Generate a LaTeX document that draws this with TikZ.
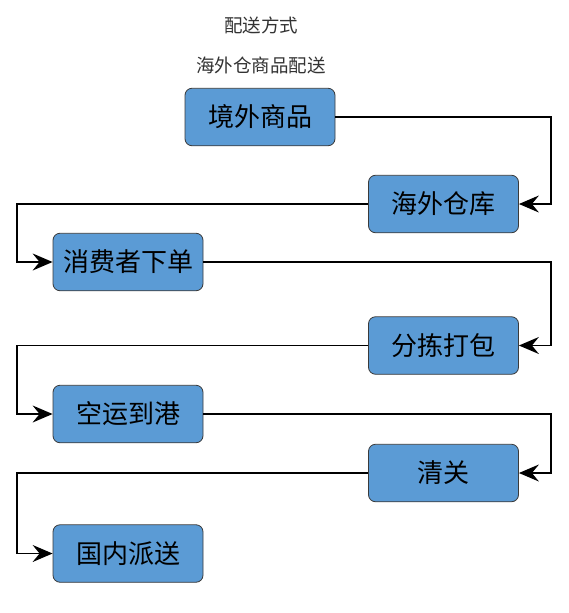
\documentclass[tikz,border=0pt]{standalone}
\usepackage{fontspec}
\setmainfont{Noto Sans CJK SC}
\usepackage{tikz}
\usetikzlibrary{arrows.meta}

\definecolor{boxblue}{HTML}{5B9BD5}
\definecolor{boxline}{HTML}{3A3A3A}

\begin{document}
\begin{tikzpicture}[
		x=1pt, y=-1pt,
		flowbox/.style={draw=boxline, line width=0.8pt, fill=boxblue, rounded corners=7pt,
			minimum width=150pt, minimum height=57.5pt, inner sep=0pt,
			font=\fontsize{26}{30}\selectfont},
		caption/.style={text=black!80, font=\fontsize{18.5}{22}\selectfont},
		flow/.style={line width=1.5pt, -{Stealth[length=20pt, width=17pt, inset=7pt]}}
	]
	\useasboundingbox (0, 0) rectangle (568, 613);
	
	\node[caption] (title) at (261, 25) {配送方式};
	\node[caption] (subtitle) at (261, 65) {海外仓商品配送};
	
	\node[flowbox] (goods) at (260, 117) {境外商品};
	\node[flowbox] (warehouse) at (443.5, 204) {海外仓库};
	\node[flowbox] (order) at (128, 262) {消费者下单};
	\node[flowbox] (packing) at (443.5, 345.5) {分拣打包};
	\node[flowbox] (airport) at (128, 414) {空运到港};
	\node[flowbox] (customs) at (443.5, 473) {清关};
	\node[flowbox] (delivery) at (128, 553.5) {国内派送};
	
	\coordinate (right) at (551, 0);
	\coordinate (left) at (17, 0);
	
	\draw[flow] (goods.east) -| (right |- warehouse.east) -- (warehouse.east);
	\draw[flow] (warehouse.west) -| (left |- order.west) -- (order.west);
	
	\draw[flow] (order.east) -| (right |- packing.east) -- (packing.east);
	\draw[flow] (packing.west) -| (left |- airport.west) -- (airport.west);
	
	\draw[flow] (airport.east) -| (right |- customs.east) -- (customs.east);
	\draw[flow] (customs.west) -| (left |- delivery.west) -- (delivery.west);
\end{tikzpicture}
\end{document}
